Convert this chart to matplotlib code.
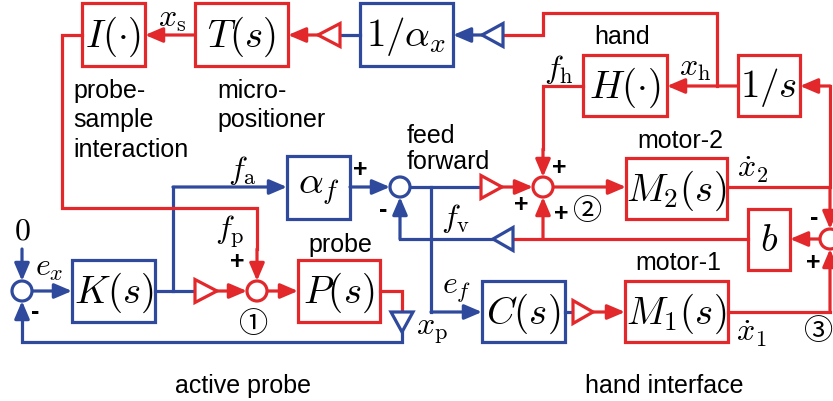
import matplotlib.pyplot as plt
from matplotlib.patches import Rectangle, Circle, Polygon

RED = '#e3282c'
BLUE = '#2f4a9d'
LW = 2.3

# block labels (transfer functions) and their colour
block_labels = [r'$I(\cdot)$', r'$T(s)$', r'$1/\alpha_x$', r'$H(\cdot)$', r'$1/s$',
                r'$\alpha_f$', r'$M_2(s)$', r'$b$', r'$K(s)$', r'$P(s)$',
                r'$C(s)$', r'$M_1(s)$']
block_colors = ['r', 'r', 'b', 'r', 'r', 'b', 'r', 'r', 'b', 'r', 'b', 'r']

# signal names
signal_labels = [r'$x_\mathrm{s}$', r'$x_\mathrm{h}$', r'$f_\mathrm{h}$', r'$f_\mathrm{a}$',
                 r'$f_\mathrm{p}$', r'$f_\mathrm{v}$', r'$e_f$', r'$e_x$', r'$x_\mathrm{p}$',
                 r'$\dot{x}_2$', r'$\dot{x}_1$', r'$0$']

# descriptive captions
captions = ['hand', 'motor-2', 'probe', 'motor-1', 'active probe', 'hand interface',
            'feed', 'forward', 'probe-', 'sample', 'interaction', 'micro-', 'positioner']

# sign marks at summing junctions and junction numbers
signs = ['+', '-', '+', '+', '+', '-', '+', '+', '-']
junction_ids = ['①', '②', '③']

plt.rcParams['mathtext.fontset'] = 'cm'
plt.rcParams['font.family'] = ['Liberation Sans', 'DejaVu Sans']

fig = plt.figure(figsize=(8.33, 4.02), dpi=100)
ax = fig.add_axes([0, 0, 1, 1])
ax.set_xlim(0, 833)
ax.set_ylim(402, 0)
ax.axis('off')

col = {'r': RED, 'b': BLUE}


def line(xs, ys, c):
    ax.plot(xs, ys, color=c, lw=LW, solid_capstyle='projecting', solid_joinstyle='miter', zorder=1)


def arrow(x0, y0, x1, y1, c):
    ax.annotate('', xy=(x1, y1), xytext=(x0, y0),
                arrowprops=dict(arrowstyle='-|>,head_length=0.75,head_width=0.32', color=c,
                                lw=LW, mutation_scale=14, shrinkA=0, shrinkB=0), zorder=2)


def tri(x_base, x_tip, y, c, h=23):
    ax.add_patch(Polygon([(x_base, y - h / 2), (x_base, y + h / 2), (x_tip, y)], closed=True,
                         fc='white', ec=c, lw=LW, zorder=3))


def tri_down(x, y_base, y_tip, c, w=22):
    ax.add_patch(Polygon([(x - w / 2, y_base), (x + w / 2, y_base), (x, y_tip)], closed=True,
                         fc='white', ec=c, lw=LW, zorder=3))


def summer(x, y, c):
    ax.add_patch(Circle((x, y), 10, fc='white', ec=c, lw=LW, zorder=3))


# block layout (x0, y0, x1, y1)
block_pos = [(82, 4, 145, 67), (195, 4, 288, 67), (360, 4, 453, 67), (583, 56, 667, 117),
             (738, 56, 800, 117), (287, 157, 350, 220), (626, 159, 727, 220), (748, 210, 790, 271),
             (72, 261, 155, 323), (298, 261, 380, 323), (482, 282, 565, 343), (625, 282, 728, 343)]

for lab, c, (x0, y0, x1, y1) in zip(block_labels, block_colors, block_pos):
    ax.add_patch(Rectangle((x0, y0), x1 - x0, y1 - y0, fill=False, ec=col[c], lw=LW, zorder=3))
    ax.text((x0 + x1) / 2, (y0 + y1) / 2 + 1, lab, ha='center', va='center', fontsize=28, zorder=4)

# ---- top row
arrow(195, 36, 145, 36, RED)
tri(340, 318, 36, RED)
arrow(318, 36, 288, 36, RED)
line([360, 340], [36, 36], BLUE)
tri(503, 482, 36, BLUE)
arrow(482, 36, 453, 36, BLUE)
line([503, 543, 543, 717, 717], [36, 36, 14, 14, 87], RED)

# ---- hand loop
arrow(738, 87, 667, 87, RED)
line([583, 543, 543], [87, 87, 150], RED)
arrow(543, 150, 543, 178, RED)
line([727, 830, 830], [188, 188, 87], RED)
arrow(830, 87, 800, 87, RED)
arrow(830, 188, 830, 230, RED)
summer(830, 240, RED)
arrow(820, 240, 790, 240, RED)
line([748, 513], [240, 240], RED)
arrow(543, 240, 543, 198, RED)
tri(513, 493, 240, BLUE)
line([493, 400], [240, 240], BLUE)
arrow(400, 240, 400, 198, BLUE)
line([728, 830], [313, 313], RED)
arrow(830, 313, 830, 250, RED)

# ---- feed forward row
summer(400, 188, BLUE)
arrow(350, 188, 390, 188, BLUE)
line([410, 481], [188, 188], BLUE)
tri(481, 502, 188, RED)
arrow(502, 188, 533, 188, RED)
summer(543, 188, RED)
arrow(553, 188, 626, 188, RED)
line([431, 431], [188, 313], BLUE)
arrow(431, 313, 482, 313, BLUE)
line([565, 573], [313, 313], BLUE)
tri(573, 593, 313, RED)
arrow(593, 313, 625, 313, RED)

# ---- active probe loop
arrow(22, 250, 22, 282, BLUE)
summer(22, 292, BLUE)
arrow(32, 292, 72, 292, BLUE)
line([155, 195], [292, 292], BLUE)
line([173, 173], [292, 188], BLUE)
arrow(173, 188, 287, 188, BLUE)
tri(195, 217, 292, RED)
arrow(217, 292, 247, 292, RED)
summer(257, 292, RED)
arrow(267, 292, 298, 292, RED)
line([82, 62, 62, 257, 257], [36, 36, 209, 209, 250], RED)
arrow(257, 250, 257, 282, RED)
line([380, 402, 402], [292, 292, 313], RED)
tri_down(402, 313, 333, BLUE)
line([402, 402, 22, 22], [333, 343, 343, 320], BLUE)
arrow(22, 320, 22, 302, BLUE)

# ---- signal labels
sig_pos = [(172, 19), (695, 68), (559, 70), (242, 171), (230, 232), (455, 219), (457, 290),
           (49, 268), (432, 331), (753, 170), (752, 334), (22, 232)]
for lab, (x, y) in zip(signal_labels, sig_pos):
    ax.text(x, y, lab, ha='center', va='center', fontsize=23)

# ---- captions
cap_pos = [(622, 37), (680, 141), (340, 245), (678, 263), (243, 386), (664, 386),
           (407, 136), (407, 162), (73, 91), (73, 120), (73, 150), (217, 91), (217, 120)]
for lab, (x, y) in zip(captions, cap_pos):
    ha = 'left' if x in (407, 73, 217) else 'center'
    ax.text(x, y, lab, ha=ha, va='center', fontsize=18)

# ---- signs
sign_pos = [(360, 170), (383, 210), (559, 168), (521, 205), (561, 214), (814, 218),
            (813, 263), (237, 262), (35, 312)]
for s, (x, y) in zip(signs, sign_pos):
    ax.text(x, y, s, ha='center', va='center', fontsize=18, fontweight='bold')

id_pos = [(254, 325), (588, 212), (819, 332)]
for s, (x, y) in zip(junction_ids, id_pos):
    ax.text(x, y, s, ha='center', va='center', fontsize=21,
            family=['Noto Sans CJK JP', 'DejaVu Sans'])

fig.savefig('out.png', dpi=100)
